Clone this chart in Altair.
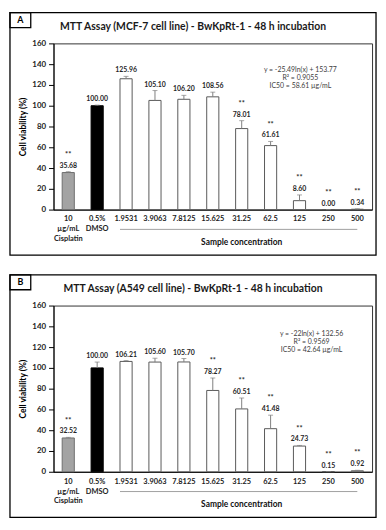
import altair as alt
import pandas as pd

FONT = "Lato"

categories = ["10 µg/mL Cisplatin", "0.5% DMSO", "1.9531", "3.9063", "7.8125",
              "15.625", "31.25", "62.5", "125", "250", "500"]
tick_labels = ["10\nµg/mL\nCisplatin", "0.5%\nDMSO", "1.9531", "3.9063", "7.8125",
               "15.625", "31.25", "62.5", "125", "250", "500"]
kinds = ["cisplatin", "dmso", "sample", "sample", "sample", "sample",
         "sample", "sample", "sample", "sample", "sample"]

# Panel A: MCF-7
a_values = [35.68, 100.00, 125.96, 105.10, 106.20, 108.56, 78.01, 61.61, 8.60, 0.00, 0.34]
a_errors = [0.8, 0.6, 2.3, 9.5, 3.8, 4.5, 7.6, 4.0, 5.5, 0.0, 0.4]
a_stars = ["**", "", "", "", "", "", "**", "**", "**", "**", "**"]
a_reg = "y = -25.49ln(x) + 153.77\nR² = 0.9055\nIC50 = 58.61 µg/mL"

# Panel B: A549
b_values = [32.52, 100.00, 106.21, 105.60, 105.70, 78.27, 60.51, 41.48, 24.73, 0.15, 0.92]
b_errors = [0.6, 5.6, 0.8, 3.7, 3.3, 12.0, 10.5, 13.0, 0.6, 0.1, 0.5]
b_stars = ["**", "", "", "", "", "**", "**", "**", "**", "**", "**"]
b_reg = "y = -22ln(x) + 132.56\nR² = 0.9569\nIC50 = 42.64 µg/mL"

y_ticks = [0, 20, 40, 60, 80, 100, 120, 140, 160]

W, H = 322, 168
L, T, R, B = 44, 31, 4, 46

kind_domain = ["cisplatin", "dmso", "sample"]
fill_range = ["#a3a3a3", "#000000", "#ffffff"]
stroke_range = ["#6e6e6e", "#000000", "#595959"]

YAXIS = alt.Axis(values=y_ticks, grid=False, labelOverlap=False,
                 title="Cell viability (%)", titleFont=FONT, titleFontSize=8.5,
                 titleFontWeight="bold", titleColor="#000", titlePadding=4,
                 labelFont=FONT, labelFontSize=8, labelFontWeight="bold",
                 labelColor="#222", labelPadding=3, tickSize=5,
                 tickColor="#000", domainColor="#000")
XAXIS = alt.Axis(labels=False, ticks=False, title=None, domainColor="#000")


def panel(letter, title, values, errors, stars, reg_text, reg_x, reg_y):
    df = pd.DataFrame({"cat": categories, "label": tick_labels, "kind": kinds,
                       "value": values, "err": errors, "star": stars})
    df["top"] = df["value"] + df["err"]
    xs = alt.Scale(domain=categories, paddingInner=0.58, paddingOuter=0.3)
    ys = alt.Scale(domain=[0, 160], nice=False)
    one = pd.DataFrame({"k": [0]})
    base = alt.Chart(df)
    xenc = alt.X("cat:N", scale=xs, axis=XAXIS)

    def yenc(f):
        return alt.Y(f, scale=ys, axis=YAXIS)

    border = alt.Chart(one).mark_rect(fillOpacity=0, stroke="#000", strokeWidth=1.3).encode(
        x=alt.value(-L), x2=alt.value(W + R), y=alt.value(-T), y2=alt.value(H + B))
    lbox = alt.Chart(one).mark_rect(fillOpacity=0, stroke="#000", strokeWidth=1.3).encode(
        x=alt.value(-L), x2=alt.value(-L + 21), y=alt.value(-T), y2=alt.value(-T + 15))
    ltxt = alt.Chart(one).mark_text(font=FONT, fontSize=9, fontWeight="bold",
                                    baseline="middle", align="center", color="#000").encode(
        x=alt.value(-L + 10.5), y=alt.value(-T + 7.5), text=alt.value(letter))
    ttl = alt.Chart(one).mark_text(font=FONT, fontSize=10.5, fontWeight="bold",
                                   baseline="middle", align="center", color="#1a1a1a").encode(
        x=alt.value((W + R - L) / 2), y=alt.value(-T + 14), text=alt.value(title))

    bars = base.mark_bar(strokeWidth=1).encode(
        x=xenc,
        y=yenc("value:Q"),
        fill=alt.Fill("kind:N", scale=alt.Scale(domain=kind_domain, range=fill_range), legend=None),
        stroke=alt.Stroke("kind:N", scale=alt.Scale(domain=kind_domain, range=stroke_range),
                          legend=None),
    )
    err = base.mark_rule(color="#808080", strokeWidth=1).encode(
        x=xenc, y=yenc("value:Q"), y2="top:Q")
    cap = base.mark_tick(color="#808080", size=5, thickness=1).encode(
        x=xenc, y=yenc("top:Q"))
    vals = base.mark_text(font=FONT, fontSize=7, fontWeight="bold", color="#262626",
                          baseline="bottom", dy=-3).encode(
        x=xenc, y=yenc("top:Q"), text=alt.Text("value:Q", format=".2f"))
    strs = base.mark_text(font=FONT, fontSize=7.5, fontWeight="bold", color="#262626",
                          baseline="bottom", dy=-13).encode(
        x=xenc, y=yenc("top:Q"), text="star:N")
    xlab = base.mark_text(font=FONT, fontSize=7.5, fontWeight="bold", color="#222",
                          baseline="top", lineBreak="\n", lineHeight=10).encode(
        x=xenc, y=alt.value(H + 6), text="label:N")
    samp = alt.Chart(pd.DataFrame({"cat": ["31.25"]})).mark_text(
        font=FONT, fontSize=8.5, fontWeight="bold", color="#111", baseline="middle").encode(
        x=xenc, y=alt.value(H + 33), text=alt.value("Sample concentration"))
    uline = alt.Chart(pd.DataFrame({"s": ["1.9531"], "e": ["500"]})).mark_rule(
        color="#a0a0a0", strokeWidth=1).encode(
        x=alt.X("s:N", scale=xs, axis=XAXIS, bandPosition=0), x2="e:N", y=alt.value(H + 20))
    reg = alt.Chart(one).mark_text(font=FONT, fontSize=7, color="#404040",
                                   lineBreak="\n", lineHeight=7.8,
                                   baseline="middle", align="center").encode(
        x=alt.value(reg_x * W), y=alt.value(reg_y * H), text=alt.value(reg_text))

    return alt.layer(border, lbox, ltxt, ttl, bars, err, cap, vals, strs, xlab, samp,
                     uline, reg).properties(width=W, height=H)


pa = panel("A", "MTT Assay (MCF-7 cell line) - BwKpRt-1 - 48 h incubation",
           a_values, a_errors, a_stars, a_reg, 0.775, 0.163)
pb = panel("B", "MTT Assay (A549 cell line) - BwKpRt-1 - 48 h incubation",
           b_values, b_errors, b_stars, b_reg, 0.81, 0.173)

chart = alt.vconcat(pa, pb, spacing=16).properties(
    padding=0, background="white"
).configure_view(stroke="#333", strokeWidth=1)

chart.save("out.html", embed_options={"renderer": "svg", "actions": False})
